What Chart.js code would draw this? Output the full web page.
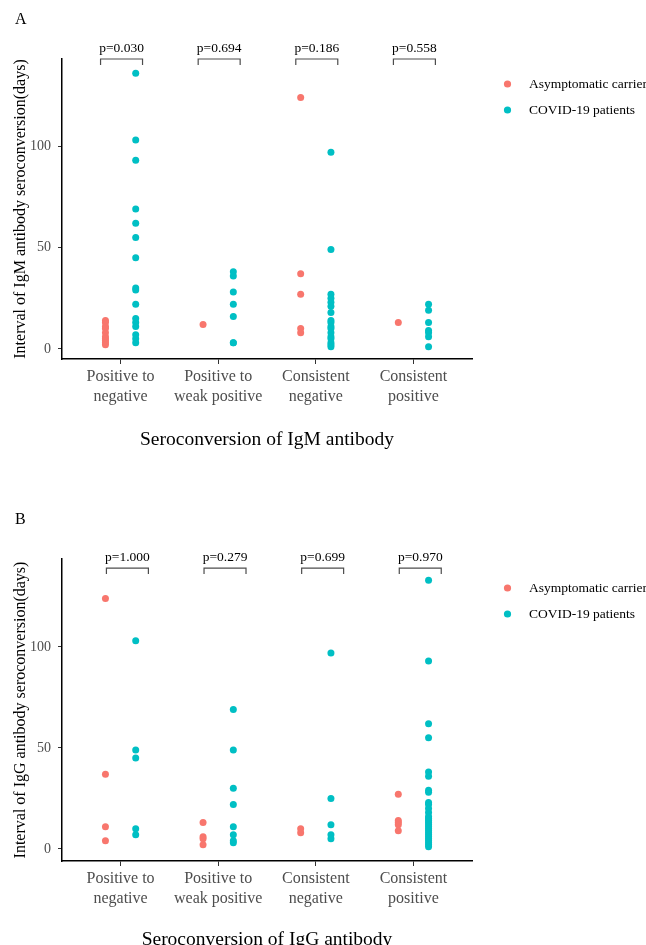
<!DOCTYPE html>
<html>
<head>
<meta charset="utf-8">
<script src="https://cdn.jsdelivr.net/npm/chart.js@4"></script>
<style>
  html, body { margin: 0; padding: 0; background: #fff; overflow: hidden; }
  body { width: 646px; height: 945px; position: relative; }
  canvas { position: absolute; left: 0; }
  #chartA { top: 0; }
  #chartB { top: 500px; }
</style>
</head>
<body>
<canvas id="chartA" width="646" height="502"></canvas>
<canvas id="chartB" width="646" height="502"></canvas>
<script>
// categories on the x axis (same for both panels)
var categories = [
  ['Positive to', 'negative'],
  ['Positive to', 'weak positive'],
  ['Consistent', 'negative'],
  ['Consistent', 'positive']
];
var groups = ['Asymptomatic carrier', 'COVID-19 patients'];
var groupColors = ['#F8766D', '#00BFC4'];
var yTicks = [0, 50, 100];

// panel A - IgM, days per category
var igmCarrier = [
  [14, 13, 11, 10, 8, 6, 5, 4, 3, 2],
  [12],
  [124, 37, 27, 10, 8],
  [13]
];
var igmPatients = [
  [136, 103, 93, 69, 62, 55, 45, 30, 29, 22, 15, 13, 11, 7, 5, 3],
  [38, 36, 28, 22, 16, 3, 3],
  [97, 49, 27, 25, 23, 21, 18, 14, 13, 11, 10, 8, 6, 5, 3, 2, 1],
  [22, 19, 13, 9, 8, 6, 1]
];
var igmP = ['p=0.030', 'p=0.694', 'p=0.186', 'p=0.558'];

// panel B - IgG
var iggCarrier = [
  [124, 37, 11, 4],
  [13, 6, 5, 2],
  [10, 8],
  [27, 14, 13, 12, 9]
];
var iggPatients = [
  [103, 49, 45, 10, 7],
  [69, 49, 30, 22, 11, 7, 4, 3],
  [97, 25, 12, 7, 5],
  [133, 93, 62, 55, 38, 36, 29, 28, 23, 22, 20, 18, 16, 15, 14, 13, 12, 11, 10, 9, 8, 7, 6, 5, 4, 3, 2, 1]
];
var iggP = ['p=1.000', 'p=0.279', 'p=0.699', 'p=0.970'];

var serif = '"Liberation Serif", "DejaVu Serif", serif';
var dodge = 0.155;

function toPoints(byCat, off) {
  var pts = [];
  byCat.forEach(function (vals, i) {
    vals.forEach(function (v) { pts.push({ x: i + 1 + off, y: v }); });
  });
  return pts;
}

// brackets with p values + legend + panel letter
var extras = {
  id: 'extras',
  afterDraw: function (chart, args, o) {
    var ctx = chart.ctx, xs = chart.scales.x, ys = chart.scales.y;
    ctx.save();
    // brackets
    ctx.strokeStyle = '#4d4d4d';
    ctx.lineWidth = 1.2;
    ctx.fillStyle = '#000';
    ctx.font = '13.5px ' + serif;
    ctx.textAlign = 'center';
    ctx.textBaseline = 'middle';
    o.pvals.forEach(function (p, i) {
      var c = i + 1 + o.shift;
      var x0 = xs.getPixelForValue(c - 0.215);
      var x1 = xs.getPixelForValue(c + 0.215);
      var y = ys.getPixelForValue(o.bracketY);
      ctx.beginPath();
      ctx.moveTo(x0, y + 6);
      ctx.lineTo(x0, y);
      ctx.lineTo(x1, y);
      ctx.lineTo(x1, y + 6);
      ctx.stroke();
      ctx.fillText(p, (x0 + x1) / 2, y - 11);
    });
    // legend
    ctx.textAlign = 'left';
    ctx.font = '13.5px ' + serif;
    groups.forEach(function (g, i) {
      var ly = o.legendY + i * 26;
      ctx.fillStyle = groupColors[i];
      ctx.beginPath();
      ctx.arc(507.5, ly, 3.6, 0, Math.PI * 2);
      ctx.fill();
      ctx.fillStyle = '#000';
      ctx.fillText(g, 529, ly);
    });
    // panel letter
    ctx.font = '16px ' + serif;
    ctx.fillText(o.letter, 15, 20);
    ctx.restore();
  }
};

function makeChart(id, carrier, patients, pvals, opts) {
  var ctx = document.getElementById(id).getContext('2d');
  return new Chart(ctx, {
    type: 'scatter',
    data: {
      datasets: [
        { label: groups[0], data: toPoints(carrier, -dodge), backgroundColor: groupColors[0] },
        { label: groups[1], data: toPoints(patients, dodge), backgroundColor: groupColors[1] }
      ]
    },
    plugins: [extras],
    options: {
      responsive: false,
      animation: false,
      devicePixelRatio: 1,
      layout: { padding: { top: 59, right: 174, bottom: 0, left: 0 } },
      elements: { point: { radius: 3.5, borderWidth: 0, hoverRadius: 3.5 } },
      plugins: {
        legend: { display: false },
        tooltip: { enabled: false },
        extras: { pvals: pvals, shift: opts.shift, bracketY: opts.bracketY, legendY: opts.legendY, letter: opts.letter }
      },
      scales: {
        x: {
          type: 'linear',
          min: 0.4,
          max: 4.6,
          afterBuildTicks: function (s) { s.ticks = categories.map(function (c, i) { return { value: i + 1 }; }); },
          afterFit: function (s) { s.height = opts.xHeight; },
          ticks: {
            callback: function (v) { return categories[v - 1]; },
            color: '#4d4d4d',
            font: { family: serif, size: 16, lineHeight: 1.3 },
            padding: 2,
            maxRotation: 0,
            autoSkip: false
          },
          grid: { display: true, drawOnChartArea: false, drawTicks: true, tickLength: 5, color: '#333' },
          border: { display: true, color: '#000', width: 1.5 },
          title: {
            display: true,
            text: opts.xTitle,
            color: '#000',
            font: { family: serif, size: 19.5, lineHeight: 1.2 },
            padding: { top: 0, bottom: 50 }
          }
        },
        y: {
          min: opts.yMin,
          max: opts.yMax,
          afterBuildTicks: function (s) { s.ticks = yTicks.map(function (v) { return { value: v }; }); },
          afterFit: function (s) { s.width = 62; },
          ticks: {
            color: '#4d4d4d',
            font: { family: serif, size: 14 },
            padding: 7
          },
          grid: { display: true, drawOnChartArea: false, drawTicks: true, tickLength: 4, color: '#333' },
          border: { display: true, color: '#000', width: 1.5 },
          title: {
            display: true,
            text: opts.yTitle,
            color: '#000',
            font: { family: serif, size: 16, lineHeight: 1.2 },
            padding: { top: 11, bottom: 0 }
          }
        }
      }
    }
  });
}

makeChart('chartA', igmCarrier, igmPatients, igmP, {
  letter: 'A', shift: 0.01, bracketY: 143, legendY: 84,
  yMin: -5, yMax: 143, xHeight: 143,
  xTitle: 'Seroconversion of IgM antibody',
  yTitle: 'Interval of IgM antibody seroconversion(days)'
});
makeChart('chartB', iggCarrier, iggPatients, iggP, {
  letter: 'B', shift: 0.07, bracketY: 139, legendY: 88,
  yMin: -6, yMax: 143.5, xHeight: 141,
  xTitle: 'Seroconversion of IgG antibody',
  yTitle: 'Interval of IgG antibody seroconversion(days)'
});
</script>
</body>
</html>
